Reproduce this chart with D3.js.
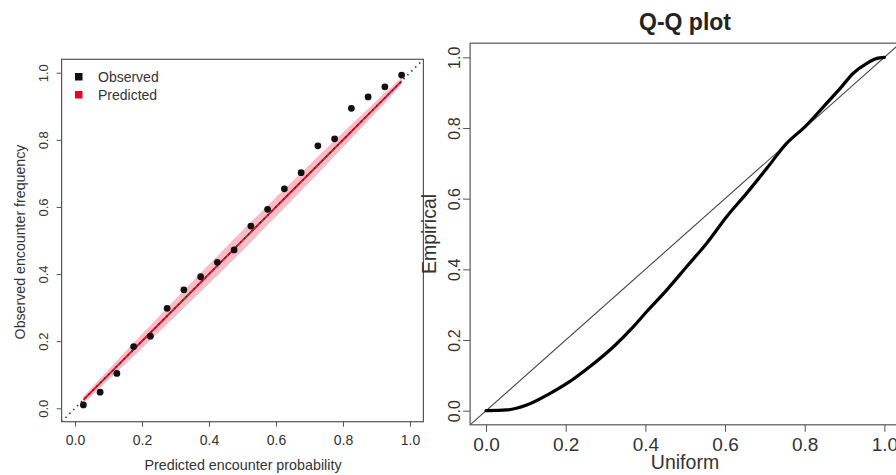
<!DOCTYPE html>
<html>
<head>
<meta charset="utf-8">
<script src="https://cdn.jsdelivr.net/npm/d3@7"></script>
<style>
  body { margin: 0; background: #fff; }
  svg { display: block; font-family: "Liberation Sans", Arial, sans-serif; }
</style>
</head>
<body>
<svg id="chart" width="896" height="475"></svg>
<script>
// calibration panel data
var binMid = [0.025, 0.075, 0.125, 0.175, 0.225, 0.275, 0.325, 0.375, 0.425, 0.475,
              0.525, 0.575, 0.625, 0.675, 0.725, 0.775, 0.825, 0.875, 0.925, 0.975];
var observed = [0.010, 0.048, 0.104, 0.184, 0.215, 0.298, 0.353, 0.392, 0.435, 0.472,
                0.543, 0.593, 0.654, 0.702, 0.782, 0.803, 0.894, 0.928, 0.958, 0.993];
var predicted = binMid;
var predLow = [0.015, 0.061, 0.108, 0.155, 0.203, 0.251, 0.299, 0.347, 0.396, 0.445,
               0.495, 0.546, 0.597, 0.648, 0.700, 0.752, 0.804, 0.857, 0.910, 0.965];
var predHigh = [0.035, 0.089, 0.142, 0.195, 0.247, 0.299, 0.351, 0.403, 0.454, 0.505,
                0.555, 0.604, 0.653, 0.702, 0.750, 0.798, 0.846, 0.893, 0.940, 0.985];

// Q-Q panel data
var qqUniform = [0, 0.052, 0.102, 0.161, 0.203, 0.261, 0.320, 0.370, 0.403, 0.454, 0.504,
                 0.554, 0.604, 0.654, 0.705, 0.755, 0.801, 0.847, 0.889, 0.922, 0.956, 0.981, 1];
var qqEmpirical = [0, 0.002, 0.016, 0.049, 0.077, 0.125, 0.181, 0.238, 0.280, 0.342, 0.408,
                   0.474, 0.549, 0.615, 0.686, 0.757, 0.804, 0.860, 0.912, 0.955, 0.983, 0.997, 1];

var ticks = [0, 0.2, 0.4, 0.6, 0.8, 1.0];
var axisCol = "#555";
var textCol = "#333";

var svg = d3.select("#chart");

function drawAxes(g, x, y, o) {
  var x0 = x.range()[0], x1 = x.range()[1];
  var y0 = y.range()[0], y1 = y.range()[1];
  // box
  g.append("rect")
    .attr("x", x0).attr("y", y1)
    .attr("width", x1 - x0).attr("height", y0 - y1)
    .attr("fill", "none").attr("stroke", axisCol).attr("stroke-width", 1.2);

  var xa = d3.axisBottom(x).tickValues(ticks).tickSize(o.tickLen).tickFormat(d3.format(".1f"));
  var gx = g.append("g").attr("transform", "translate(0," + y0 + ")").call(xa);
  gx.select(".domain").remove();
  gx.selectAll("line").attr("stroke", axisCol);
  gx.selectAll("text").attr("font-size", o.xfs).attr("fill", textCol)
    .attr("font-family", "Liberation Sans, Arial, sans-serif")
    .attr("dy", null).attr("y", o.xLabY);

  var ya = d3.axisLeft(y).tickValues(ticks).tickSize(o.tickLen).tickFormat(d3.format(".1f"));
  var gy = g.append("g").attr("transform", "translate(" + x0 + ",0)").call(ya);
  gy.select(".domain").remove();
  gy.selectAll("line").attr("stroke", axisCol);
  gy.selectAll("text").attr("font-size", o.yfs).attr("fill", textCol)
    .attr("font-family", "Liberation Sans, Arial, sans-serif")
    .attr("x", null).attr("dy", null)
    .attr("text-anchor", "middle")
    .attr("transform", "translate(" + (-o.yLabX) + ",0) rotate(-90)");
}

// ---------- left panel: calibration ----------
var xL = d3.scaleLinear().domain([-0.04, 1.04]).range([61.6, 423.4]);
var yL = d3.scaleLinear().domain([-0.04, 1.04]).range([421.7, 59.3]);
var gL = svg.append("g");

gL.append("clipPath").attr("id", "clipL").append("rect")
  .attr("x", 61.6).attr("y", 59.3).attr("width", 423.4 - 61.6).attr("height", 421.7 - 59.3);

var plotL = gL.append("g").attr("clip-path", "url(#clipL)");

var band = d3.area()
  .x(function(d, i) { return xL(binMid[i]); })
  .y0(function(d, i) { return yL(predLow[i]); })
  .y1(function(d, i) { return yL(predHigh[i]); });
plotL.append("path").datum(binMid).attr("d", band)
  .attr("fill", "#f7bcc5");

var predLine = d3.line()
  .x(function(d, i) { return xL(binMid[i]); })
  .y(function(d, i) { return yL(predicted[i]); });
plotL.append("path").datum(binMid).attr("d", predLine)
  .attr("fill", "none").attr("stroke", "#e8102a").attr("stroke-width", 2);

plotL.append("line")
  .attr("x1", xL(-0.04)).attr("y1", yL(-0.04))
  .attr("x2", xL(1.04)).attr("y2", yL(1.04))
  .attr("stroke", "#333").attr("stroke-width", 1.6).attr("stroke-dasharray", "1.5,4");

plotL.selectAll("circle").data(binMid).enter().append("circle")
  .attr("cx", function(d) { return xL(d); })
  .attr("cy", function(d, i) { return yL(observed[i]); })
  .attr("r", 3.4).attr("fill", "#111");

drawAxes(gL, xL, yL, { xfs: 14, yfs: 13, tickLen: 5, xLabY: 23, yLabX: 14 });

// legend
var legend = [["Observed", "#111"], ["Predicted", "#f0001e"]];
legend.forEach(function(l, i) {
  gL.append("rect").attr("x", 75).attr("y", 73 + i * 18).attr("width", 7.5).attr("height", 7.5)
    .attr("fill", l[1]);
  gL.append("text").attr("x", 98).attr("y", 81.5 + i * 18).text(l[0])
    .attr("font-size", 14).attr("fill", textCol);
});

gL.append("text").attr("x", 243).attr("y", 470).attr("text-anchor", "middle")
  .attr("font-size", 14.3).attr("fill", textCol).text("Predicted encounter probability");
gL.append("text").attr("transform", "translate(25,242) rotate(-90)").attr("text-anchor", "middle")
  .attr("font-size", 14.2).attr("fill", textCol).text("Observed encounter frequency");

// ---------- right panel: Q-Q plot ----------
var xR = d3.scaleLinear().domain([-0.04, 1.04]).range([470.1, 900.3]);
var yR = d3.scaleLinear().domain([-0.04, 1.04]).range([424.8, 43.2]);
var gR = svg.append("g");

gR.append("clipPath").attr("id", "clipR").append("rect")
  .attr("x", 470.1).attr("y", 43.2).attr("width", 900.3 - 470.1).attr("height", 424.8 - 43.2);
var plotR = gR.append("g").attr("clip-path", "url(#clipR)");

plotR.append("line")
  .attr("x1", xR(-0.04)).attr("y1", yR(-0.04))
  .attr("x2", xR(1.04)).attr("y2", yR(1.04))
  .attr("stroke", "#444").attr("stroke-width", 1.1);

var qqLine = d3.line().curve(d3.curveMonotoneX)
  .x(function(d, i) { return xR(qqUniform[i]); })
  .y(function(d, i) { return yR(qqEmpirical[i]); });
plotR.append("path").datum(qqUniform).attr("d", qqLine)
  .attr("fill", "none").attr("stroke", "#000").attr("stroke-width", 3.2)
  .attr("stroke-linecap", "round");

drawAxes(gR, xR, yR, { xfs: 19, yfs: 16, tickLen: 7, xLabY: 26, yLabX: 10 });

gR.append("text").attr("x", 685).attr("y", 30).attr("text-anchor", "middle")
  .attr("font-size", 23).attr("font-weight", "bold").attr("fill", "#222").text("Q-Q plot");
gR.append("text").attr("x", 685).attr("y", 469).attr("text-anchor", "middle")
  .attr("font-size", 19.5).attr("fill", textCol).text("Uniform");
gR.append("text").attr("transform", "translate(436,234) rotate(-90)").attr("text-anchor", "middle")
  .attr("font-size", 19.5).attr("fill", textCol).text("Empirical");
</script>
</body>
</html>
